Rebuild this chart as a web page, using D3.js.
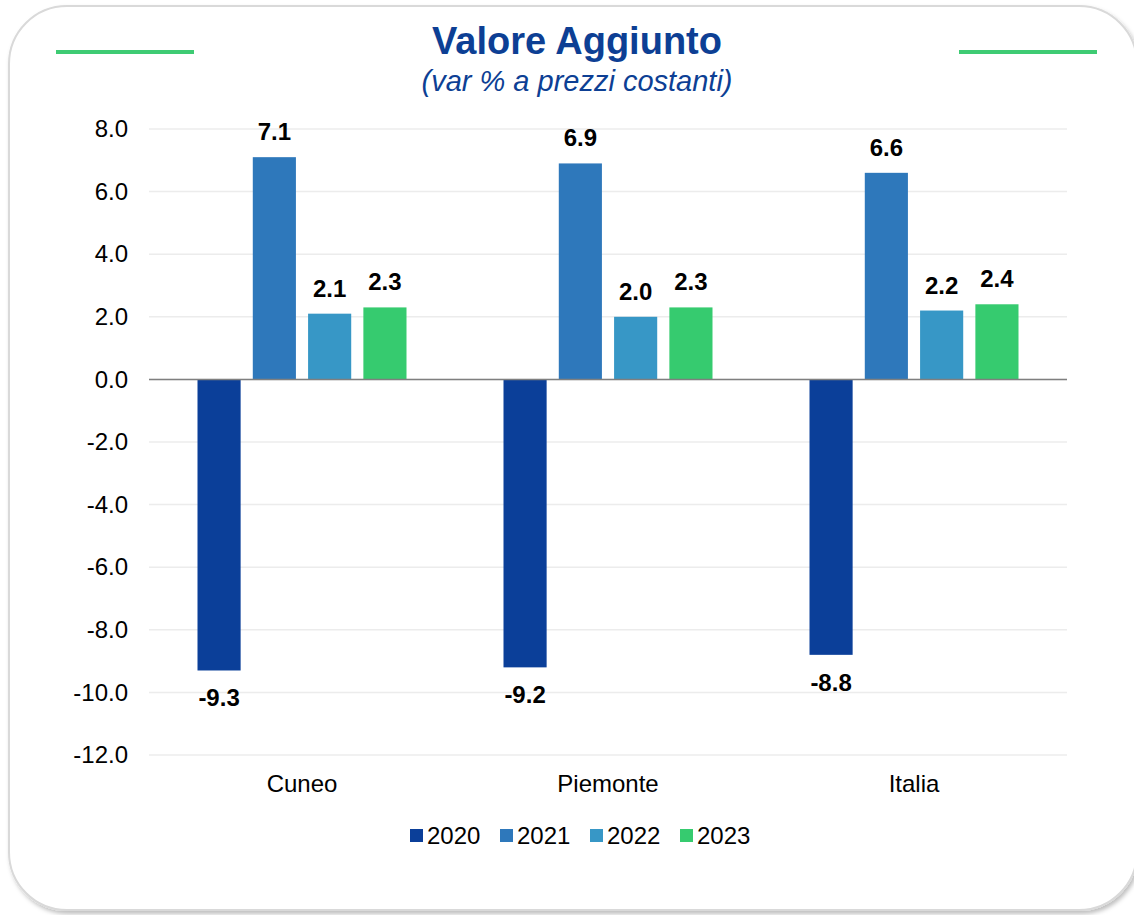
<!DOCTYPE html>
<html>
<head>
<meta charset="utf-8">
<script src="https://cdn.jsdelivr.net/npm/d3@7"></script>
<style>
	html, body { margin: 0; padding: 0; background: #fff; }
	svg { display: block; font-family: "Liberation Sans", Arial, sans-serif; }
</style>
</head>
<body>
<svg id="chart" width="1134" height="915"></svg>
<script>
var categories = ["Cuneo", "Piemonte", "Italia"];
var years = ["2020", "2021", "2022", "2023"];
var values2020 = [-9.3, -9.2, -8.8];
var values2021 = [7.1, 6.9, 6.6];
var values2022 = [2.1, 2.0, 2.2];
var values2023 = [2.3, 2.3, 2.4];
var yTicks = [8, 6, 4, 2, 0, -2, -4, -6, -8, -10, -12];
var colors = ["#0b3f99", "#2e78bb", "#3797c6", "#36cb6f"];

var series = [values2020, values2021, values2022, values2023];
var fmt = function(v) { return d3.format(".1f")(v).replace("−", "-"); };

var svg = d3.select("#chart");

// card background with shadow
var defs = svg.append("defs");
var filter = defs.append("filter").attr("id", "shadow")
	.attr("x", "-5%").attr("y", "-5%").attr("width", "110%").attr("height", "110%");
filter.append("feDropShadow").attr("dx", 2).attr("dy", 3).attr("stdDeviation", 2)
	.attr("flood-color", "#000").attr("flood-opacity", 0.25);

svg.append("rect")
	.attr("x", 9).attr("y", 6)
	.attr("width", 1128).attr("height", 904)
	.attr("rx", 58).attr("ry", 58)
	.attr("fill", "#fff")
	.attr("stroke", "#d9d9d9")
	.attr("stroke-width", 2)
	.attr("filter", "url(#shadow)");

// title decorations
svg.append("line").attr("x1", 56).attr("x2", 194).attr("y1", 52).attr("y2", 52)
	.attr("stroke", "#3ecb73").attr("stroke-width", 4);
svg.append("line").attr("x1", 959).attr("x2", 1097).attr("y1", 52).attr("y2", 52)
	.attr("stroke", "#3ecb73").attr("stroke-width", 4);

svg.append("text")
	.attr("x", 577).attr("y", 54)
	.attr("text-anchor", "middle")
	.attr("font-size", 38)
	.attr("font-weight", "bold")
	.attr("fill", "#0d3f94")
	.text("Valore Aggiunto");

svg.append("text")
	.attr("x", 577).attr("y", 91)
	.attr("text-anchor", "middle")
	.attr("font-size", 29)
	.attr("font-style", "italic")
	.attr("fill", "#0d3f94")
	.text("(var % a prezzi costanti)");

var margin = {left: 149, right: 1067, top: 129, bottom: 755};

var x = d3.scaleBand()
	.domain(categories)
	.range([margin.left, margin.right]);

var xInner = d3.scaleBand()
	.domain(years)
	.range([0, 209])
	.paddingInner(0.22);

var y = d3.scaleLinear()
	.domain([-12, 8])
	.range([margin.bottom, margin.top]);

// gridlines
svg.append("g")
	.selectAll("line")
	.data(yTicks)
	.enter().append("line")
	.attr("x1", margin.left).attr("x2", margin.right)
	.attr("y1", function(d) { return y(d); })
	.attr("y2", function(d) { return y(d); })
	.attr("stroke", "#ececec")
	.attr("stroke-width", 1.5);

// y axis labels
var yAxis = svg.append("g")
	.attr("transform", "translate(" + margin.left + ",0)")
	.call(d3.axisLeft(y).tickValues(yTicks).tickSize(0).tickPadding(21).tickFormat(fmt));
yAxis.select(".domain").remove();
yAxis.selectAll("text")
	.attr("font-size", 24)
	.attr("font-family", "Liberation Sans, Arial, sans-serif")
	.attr("fill", "#000");

// bars
var groups = svg.append("g")
	.selectAll("g")
	.data(categories)
	.enter().append("g")
	.attr("transform", function(d) { return "translate(" + (x(d) + x.bandwidth() / 2 - 104.5) + ",0)"; });

var cells = function(d, i) {
	return years.map(function(yr, j) { return {year: yr, value: series[j][i], idx: j}; });
};

groups.selectAll("rect")
	.data(cells)
	.enter().append("rect")
	.attr("x", function(d) { return xInner(d.year); })
	.attr("width", xInner.bandwidth())
	.attr("y", function(d) { return y(Math.max(0, d.value)); })
	.attr("height", function(d) { return Math.abs(y(d.value) - y(0)); })
	.attr("fill", function(d) { return colors[d.idx]; });

groups.selectAll("text")
	.data(cells)
	.enter().append("text")
	.attr("x", function(d) { return xInner(d.year) + xInner.bandwidth() / 2; })
	.attr("y", function(d) { return d.value >= 0 ? y(d.value) - 17 : y(d.value) + 36; })
	.attr("text-anchor", "middle")
	.attr("font-size", 24)
	.attr("font-weight", "bold")
	.attr("fill", "#000")
	.text(function(d) { return fmt(d.value); });

// zero line
svg.append("line")
	.attr("x1", margin.left).attr("x2", margin.right)
	.attr("y1", y(0)).attr("y2", y(0))
	.attr("stroke", "#7f7f7f")
	.attr("stroke-width", 1.5);

// category labels
svg.append("g")
	.selectAll("text")
	.data(categories)
	.enter().append("text")
	.attr("x", function(d) { return x(d) + x.bandwidth() / 2; })
	.attr("y", 792)
	.attr("text-anchor", "middle")
	.attr("font-size", 24)
	.attr("fill", "#000")
	.text(function(d) { return d; });

// legend
var legend = svg.append("g")
	.selectAll("g")
	.data(years)
	.enter().append("g")
	.attr("transform", function(d, i) { return "translate(" + (410 + i * 90) + ",829)"; });
legend.append("rect")
	.attr("width", 13).attr("height", 13)
	.attr("fill", function(d, i) { return colors[i]; });
legend.append("text")
	.attr("x", 17).attr("y", 15)
	.attr("font-size", 24)
	.attr("fill", "#000")
	.text(function(d) { return d; });
</script>
</body>
</html>
